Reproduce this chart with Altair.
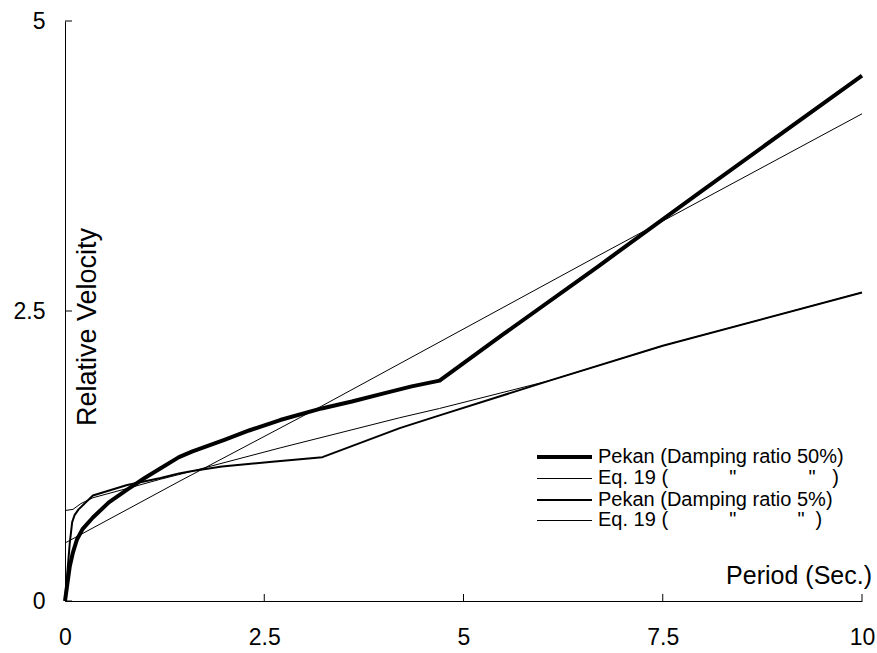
import altair as alt
import pandas as pd

# ---- data ----
series_names = [
    "Pekan 50%",
    "Eq19 50%",
    "Pekan 5%",
    "Eq19 5%",
]

pekan50_x = [0, 0.03, 0.06, 0.1, 0.15, 0.22, 0.35, 0.55, 0.78, 1.0, 1.19, 1.43, 1.6, 2.0, 2.31, 2.7, 3.22, 3.6, 4.0, 4.35, 4.7, 5.5, 6.7, 8.0, 10.0]
pekan50_y = [0, 0.15, 0.3, 0.42, 0.53, 0.62, 0.72, 0.85, 0.96, 1.06, 1.14, 1.24, 1.29, 1.39, 1.47, 1.56, 1.66, 1.72, 1.79, 1.85, 1.9, 2.30, 2.89, 3.54, 4.53]

eq50_x = [0, 1.43, 3.22, 6.7, 10.0]
eq50_y = [0.5, 1.03, 1.68, 2.98, 4.2]

pekan5_x = [0, 0.03, 0.06, 0.09, 0.12, 0.17, 0.35, 0.78, 1.2, 1.43, 1.6, 1.97, 2.6, 3.23, 4.2, 4.7, 6.08, 7.5, 10.0]
pekan5_y = [0, 0.25, 0.5, 0.68, 0.74, 0.79, 0.91, 1.0, 1.06, 1.1, 1.12, 1.16, 1.2, 1.24, 1.49, 1.60, 1.9, 2.2, 2.66]

eq5_x = [0, 0.1, 0.2, 0.35, 0.78, 1.2, 1.43, 2.7, 4.2, 4.7, 6.08, 7.5, 10.0]
eq5_y = [0.78, 0.79, 0.84, 0.89, 0.97, 1.05, 1.09, 1.32, 1.58, 1.66, 1.9, 2.2, 2.66]

stroke_widths = [4, 1, 2, 1]

x_ticks = [0, 2.5, 5, 7.5, 10]
y_ticks = [0, 2.5, 5]

NB = "\u00a0"
legend_labels = [
    "Pekan (Damping ratio 50%)",
    "Eq. 19 (" + NB * 11 + '"' + NB * 13 + '"' + NB * 3 + ")",
    "Pekan (Damping ratio 5%)",
    "Eq. 19 (" + NB * 11 + '"' + NB * 11 + '"' + NB * 2 + ")",
]

# ---- build table ----
rows = []
for name, xs, ys in zip(series_names,
                        [pekan50_x, eq50_x, pekan5_x, eq5_x],
                        [pekan50_y, eq50_y, pekan5_y, eq5_y]):
    for xv, yv in zip(xs, ys):
        rows.append({"series": name, "x": xv, "y": yv})
df = pd.DataFrame(rows)

FONT = "Liberation Sans"
W, H = 797, 580

xscale = alt.Scale(domain=[0, 10], nice=False, zero=False)
yscale = alt.Scale(domain=[0, 5], nice=False, zero=False)

xaxis = alt.Axis(values=x_ticks, title=None, ticks=False, grid=False,
                 domainColor="black", domainWidth=1,
                 labelFont=FONT, labelFontSize=23, labelColor="black",
                 labelPadding=25, labelFlush=False, labelOverlap=False,
                 labelExpr="datum.value + ''")
yaxis = alt.Axis(values=y_ticks, title=None, ticks=False, grid=False,
                 domainColor="black", domainWidth=1,
                 labelFont=FONT, labelFontSize=23, labelColor="black",
                 labelPadding=20, labelFlush=False, labelOverlap=False,
                 labelExpr="datum.value + ''")

lines = alt.Chart(df).mark_line(color="black", strokeJoin="round").encode(
    x=alt.X("x:Q", scale=xscale, axis=xaxis),
    y=alt.Y("y:Q", scale=yscale, axis=yaxis),
    detail="series:N",
    strokeWidth=alt.StrokeWidth("series:N",
                                scale=alt.Scale(type="ordinal", domain=series_names,
                                                range=stroke_widths),
                                legend=None),
)

# inward ticks
ytick_df = pd.DataFrame({"y": y_ticks})
ytick_layer = alt.Chart(ytick_df).mark_rule(color="black", strokeWidth=1).encode(
    y=alt.Y("y:Q", scale=yscale, axis=yaxis),
    x=alt.value(0), x2=alt.value(7),
)
xtick_df = pd.DataFrame({"x": x_ticks})
xtick_layer = alt.Chart(xtick_df).mark_rule(color="black", strokeWidth=1).encode(
    x=alt.X("x:Q", scale=xscale, axis=xaxis),
    y=alt.value(H), y2=alt.value(H - 7),
)

# axis titles inside plot
ytitle = alt.Chart(pd.DataFrame({"t": ["Relative Velocity"]})).mark_text(
    angle=270, font=FONT, fontSize=27, align="center", baseline="middle", color="black"
).encode(text="t:N", x=alt.value(23), y=alt.value(306))

xtitle = alt.Chart(pd.DataFrame({"t": ["Period (Sec.)"]})).mark_text(
    font=FONT, fontSize=25, align="right", baseline="middle", color="black"
).encode(text="t:N", x=alt.value(807), y=alt.value(555))

# manual legend
legend_rows_y = [436, 457, 479, 499]
legend_layers = []
for lbl, sw, ly in zip(legend_labels, stroke_widths, legend_rows_y):
    rule_y = ly + 0.5 if sw % 2 == 1 else ly
    legend_layers.append(
        alt.Chart(pd.DataFrame({"t": [lbl]})).mark_rule(color="black", strokeWidth=sw).encode(
            x=alt.value(472), x2=alt.value(527), y=alt.value(rule_y)
        )
    )
    legend_layers.append(
        alt.Chart(pd.DataFrame({"t": [lbl]})).mark_text(
            font=FONT, fontSize=20, align="left", baseline="middle", color="black"
        ).encode(text="t:N", x=alt.value(533), y=alt.value(ly))
    )

chart = alt.layer(lines, ytick_layer, xtick_layer, ytitle, xtitle, *legend_layers).properties(
    width=W, height=H,
    padding={"left": 65, "top": 21, "right": 15, "bottom": 52},
    autosize=alt.AutoSizeParams(type="none"),
    background="white",
).configure_view(stroke=None)

chart.save("out.html", embed_options={"renderer": "svg", "actions": False})
